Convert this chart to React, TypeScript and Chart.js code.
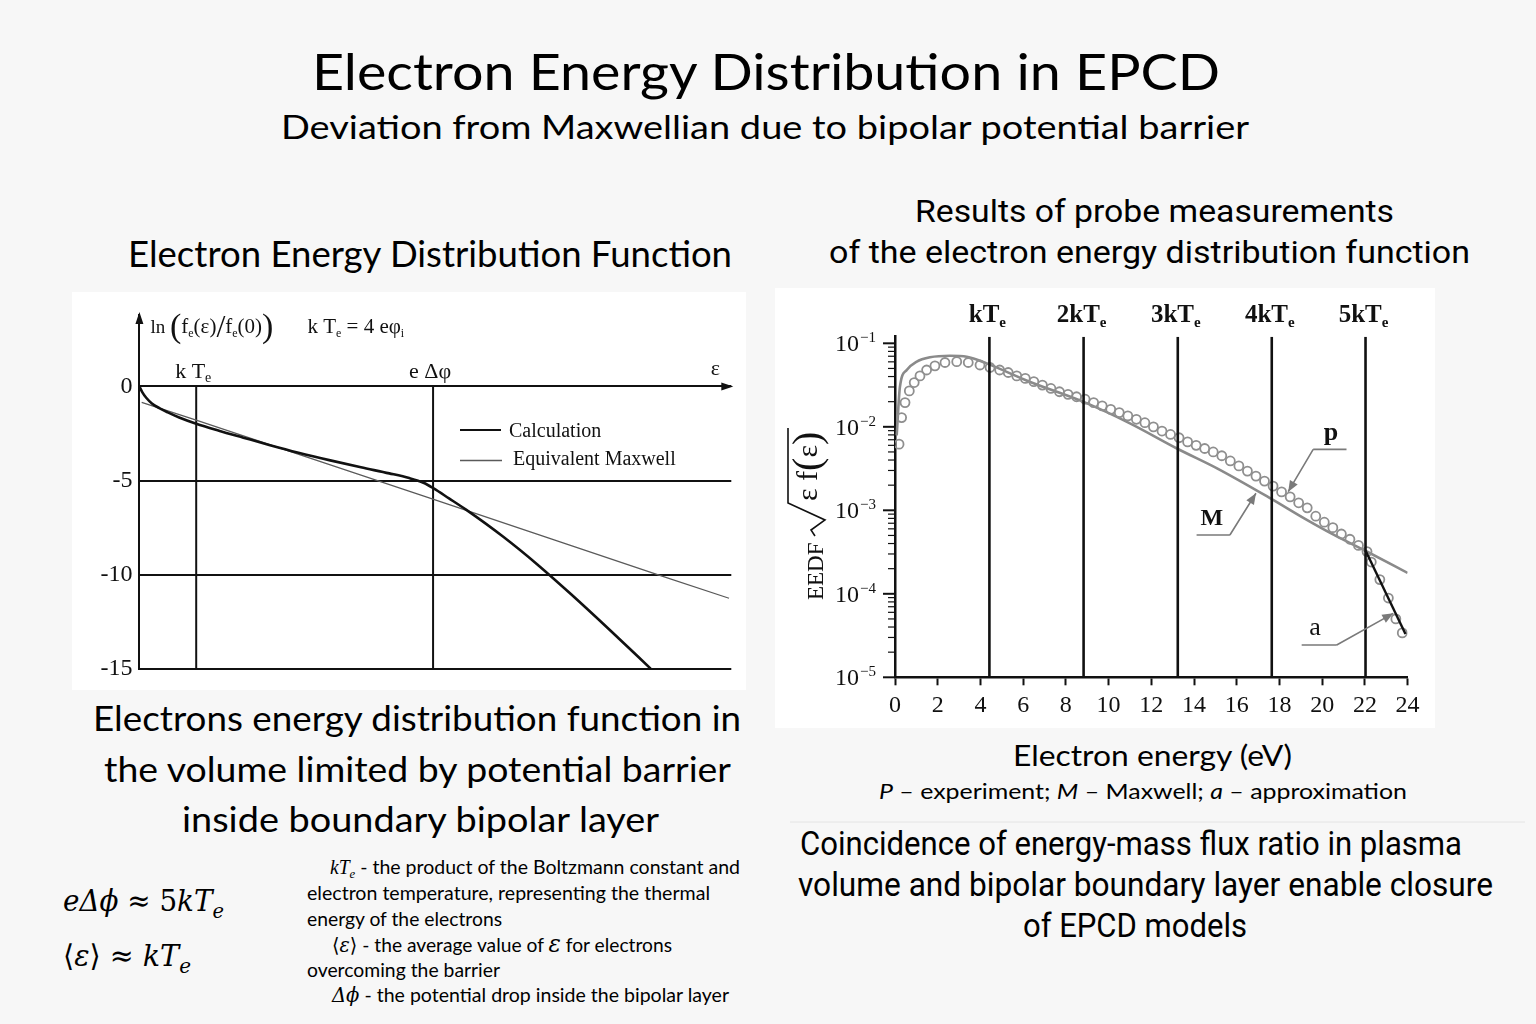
import React, { useEffect, useRef } from 'react';
import { Chart, registerables } from 'chart.js';

Chart.register(...registerables);

const INK = '#111111';
const SERIF = '"Liberation Serif", "Times New Roman", serif';
const LATO = 'Lato, "Open Sans", sans-serif';
const ROBOTO = 'Roboto, "Noto Sans", sans-serif';
const MATH = '"DejaVu Serif", "Liberation Serif", serif';

// ---------------- Left chart: ln(fe(ε)/fe(0)) vs ε (ε in units of kTe) ----------------
const calcEps = [0, 0.05, 0.12, 0.22, 0.35, 0.5, 0.7, 1.0, 1.4, 1.83, 2.3, 2.8, 3.36, 3.9, 4.4, 4.75, 5.0, 5.18, 5.45, 5.75, 6.4, 7.0, 7.6, 8.3, 9.0];
const calcLn = [0, -0.3, -0.6, -0.9, -1.15, -1.38, -1.65, -1.98, -2.35, -2.72, -3.12, -3.52, -3.93, -4.3, -4.62, -4.87, -5.12, -5.42, -5.95, -6.55, -7.98, -9.45, -11.05, -13.0, -15.0];
const maxwellEps = [0.04, 1.0, 5.18, 9.16, 10.38];
const maxwellLn = [-0.84, -1.79, -6.0, -10.04, -11.26];
const leftMarkerEps = [1, 5.17];
const leftMarkerMain = ['k T', 'e Δφ'];
const leftMarkerSub = ['e', ''];
const leftYTicks = [0, -5, -10, -15];
const LEFT_X_MAX = 10.42;
const LEFT_Y_MIN = -15;
const LEFT_Y_MAX = 3.8;

// ---------------- Right chart: EEDF vs electron energy (eV) ----------------
const pEnergy = [0.19, 0.31, 0.47, 0.67, 0.9, 1.17, 1.48, 1.87, 2.34, 2.89, 3.43, 3.98, 4.45, 4.9, 5.3, 5.7, 6.1, 6.5, 6.9, 7.3, 7.7, 8.1, 8.5, 8.9, 9.3, 9.7, 10.1, 10.5, 10.9, 11.3, 11.7, 12.1, 12.5, 12.9, 13.3, 13.7, 14.1, 14.5, 14.9, 15.3, 15.7, 16.1, 16.5, 16.9, 17.3, 17.7, 18.1, 18.5, 18.9, 19.3, 19.7, 20.1, 20.5, 20.9, 21.3, 21.7, 22.1, 22.3, 22.7, 23.1, 23.45, 23.75];
const pEedf = [6.2e-3, 1.29e-2, 1.95e-2, 2.69e-2, 3.39e-2, 4.07e-2, 4.79e-2, 5.37e-2, 5.89e-2, 6.03e-2, 5.89e-2, 5.5e-2, 5.13e-2, 4.79e-2, 4.47e-2, 4.07e-2, 3.8e-2, 3.47e-2, 3.16e-2, 2.88e-2, 2.63e-2, 2.45e-2, 2.29e-2, 2.14e-2, 1.95e-2, 1.78e-2, 1.62e-2, 1.48e-2, 1.35e-2, 1.23e-2, 1.12e-2, 1.0e-2, 8.9e-3, 8.1e-3, 7.4e-3, 6.6e-3, 6.0e-3, 5.5e-3, 5.0e-3, 4.5e-3, 3.9e-3, 3.4e-3, 2.95e-3, 2.57e-3, 2.24e-3, 1.95e-3, 1.66e-3, 1.45e-3, 1.23e-3, 1.07e-3, 8.5e-4, 7.2e-4, 6.2e-4, 5.2e-4, 4.5e-4, 3.8e-4, 3.2e-4, 2.4e-4, 1.48e-4, 8.9e-5, 5.0e-5, 3.4e-5];
const mEnergy = [0.08, 0.23, 0.55, 1.0, 1.64, 2.57, 3.36, 4.29, 6.3, 8.8, 11.0, 13.2, 15.1, 17.6, 19.2, 20.6, 22.0, 24.0];
const mEedf = [7.9e-3, 3.0e-2, 4.8e-2, 6.0e-2, 6.8e-2, 7.1e-2, 6.9e-2, 5.75e-2, 3.47e-2, 2.0e-2, 1.1e-2, 5.5e-3, 3.16e-3, 1.38e-3, 7.9e-4, 5.0e-4, 3.3e-4, 1.78e-4];
const aEnergy = [22.03, 23.9];
const aEedf = [3.3e-4, 3.3e-5];
const kTeMultiples = [4.42, 8.83, 13.24, 17.64, 22.03];
const kTeLabels = ['kT', '2kT', '3kT', '4kT', '5kT'];
const eedfDecades = [-1, -2, -3, -4, -5];
const EEDF_MIN = 1e-5;
const EEDF_MAX = 0.12;
const ENERGY_MAX = 24;
const ENERGY_STEP = 2;

const callouts = [
  { text: 'p', bold: true, labelX: 20.41, labelY: 6.95e-3, barX1: 19.58, barX2: 21.14, barY: 5.37e-3, elbowX: 19.58, tipX: 18.41, tipY: 1.67e-3 },
  { text: 'M', bold: true, labelX: 14.83, labelY: 6.67e-4, barX1: 14.12, barX2: 15.68, barY: 5.06e-4, elbowX: 15.68, tipX: 16.9, tipY: 1.6e-3 },
  { text: 'a', bold: false, labelX: 19.66, labelY: 3.2e-5, barX1: 19.04, barX2: 20.68, barY: 2.44e-5, elbowX: 20.68, tipX: 23.33, tipY: 5.83e-5 },
];

type Part = { t: string; size: number; dy?: number; weight?: string; family?: string };

function drawParts(ctx: CanvasRenderingContext2D, parts: Part[], x: number, y: number, align: 'left' | 'center' | 'right') {
  const widths = parts.map((p) => {
    ctx.font = `${p.weight || 'normal'} ${p.size}px ${p.family || SERIF}`;
    return ctx.measureText(p.t).width;
  });
  const total = widths.reduce((a, b) => a + b, 0);
  let cx = align === 'left' ? x : align === 'center' ? x - total / 2 : x - total;
  ctx.textAlign = 'left';
  ctx.textBaseline = 'alphabetic';
  parts.forEach((p, i) => {
    ctx.font = `${p.weight || 'normal'} ${p.size}px ${p.family || SERIF}`;
    ctx.fillText(p.t, cx, y + (p.dy || 0));
    cx += widths[i];
  });
  return total;
}

function arrowHead(ctx: CanvasRenderingContext2D, tx: number, ty: number, angle: number, len: number, half: number) {
  const bx = tx - len * Math.cos(angle);
  const by = ty - len * Math.sin(angle);
  const nx = -Math.sin(angle) * half;
  const ny = Math.cos(angle) * half;
  ctx.beginPath();
  ctx.moveTo(tx, ty);
  ctx.lineTo(bx + nx, by + ny);
  ctx.lineTo(bx - nx, by - ny);
  ctx.closePath();
  ctx.fill();
}

const xy = (xs: number[], ys: number[]) => xs.map((v, i) => ({ x: v, y: ys[i] }));

function LeftChart() {
  const ref = useRef<HTMLCanvasElement>(null);
  useEffect(() => {
    const canvas = ref.current!;
    const decor = {
      id: 'leftDecor',
      afterDraw(chart: any) {
        const ctx: CanvasRenderingContext2D = chart.ctx;
        const { left, right, top } = chart.chartArea;
        const xs = chart.scales.x;
        const ys = chart.scales.y;
        const y0 = ys.getPixelForValue(0);
        ctx.save();
        ctx.fillStyle = INK;
        ctx.strokeStyle = INK;
        arrowHead(ctx, right + 2, y0, 0, 12, 4);
        arrowHead(ctx, left, top - 3, -Math.PI / 2, 12, 4);
        leftMarkerEps.forEach((e, i) => {
          const px = xs.getPixelForValue(e);
          drawParts(ctx, [{ t: leftMarkerMain[i], size: 22 }, { t: leftMarkerSub[i], size: 14, dy: 4 }], px - 3, y0 - 8, 'center');
        });
        drawParts(ctx, [{ t: 'ε', size: 22 }], right - 16, y0 - 11, 'center');
        // legend
        ctx.lineWidth = 2.2;
        ctx.beginPath(); ctx.moveTo(388, 138); ctx.lineTo(429, 138); ctx.stroke();
        drawParts(ctx, [{ t: 'Calculation', size: 20 }], 437, 145, 'left');
        ctx.strokeStyle = '#5a5a5a';
        ctx.lineWidth = 1.3;
        ctx.beginPath(); ctx.moveTo(388, 168.5); ctx.lineTo(430, 168.5); ctx.stroke();
        drawParts(ctx, [{ t: 'Equivalent Maxwell', size: 20 }], 441, 173, 'left');
        // axis caption
        drawParts(ctx, [
          { t: 'ln ', size: 19 }, { t: '(', size: 34, dy: 4 }, { t: 'f', size: 21 }, { t: 'e', size: 12, dy: 4 },
          { t: '(ε)', size: 21 }, { t: '/', size: 32, dy: 4 }, { t: 'f', size: 21 }, { t: 'e', size: 12, dy: 4 },
          { t: '(0)', size: 21 }, { t: ')', size: 34, dy: 4 },
        ], left + 11, 41, 'left');
        drawParts(ctx, [{ t: 'k T', size: 21 }, { t: 'e', size: 12, dy: 4 }, { t: ' = 4 eφ', size: 21 }, { t: 'i', size: 12, dy: 4 }], left + 168, 41, 'left');
        ctx.restore();
      },
    };
    const markerSets = leftMarkerEps.map((e) => ({
      data: [{ x: e, y: 0 }, { x: e, y: LEFT_Y_MIN }],
      showLine: true, borderColor: INK, borderWidth: 2, pointRadius: 0, tension: 0,
    }));
    const chart = new Chart(canvas, {
      type: 'scatter',
      data: {
        datasets: [
          { label: 'Calculation', data: xy(calcEps, calcLn), showLine: true, borderColor: INK, borderWidth: 2.6, pointRadius: 0, cubicInterpolationMode: 'monotone' } as any,
          { label: 'Equivalent Maxwell', data: xy(maxwellEps, maxwellLn), showLine: true, borderColor: '#5a5a5a', borderWidth: 1.3, pointRadius: 0 },
          ...markerSets,
        ],
      },
      options: {
        responsive: false, animation: false, devicePixelRatio: 1,
        layout: { padding: { left: 0, right: 14.7, top: 23, bottom: 17.3 } },
        plugins: { legend: { display: false }, tooltip: { enabled: false } },
        scales: {
          x: { type: 'linear', min: 0, max: LEFT_X_MAX, display: false },
          y: {
            type: 'linear', min: LEFT_Y_MIN, max: LEFT_Y_MAX,
            afterBuildTicks: (s: any) => { s.ticks = leftYTicks.map((v) => ({ value: v })); },
            afterFit: (s: any) => { s.width = 67.4; },
            grid: { color: INK, lineWidth: 2, drawTicks: false },
            border: { display: true, color: INK, width: 2 },
            ticks: { font: { family: SERIF, size: 24 }, color: INK, padding: 7, callback: (v: any) => String(v) },
          },
        },
      } as any,
      plugins: [decor],
    });
    return () => chart.destroy();
  }, []);
  return <canvas ref={ref} width={674} height={398} style={{ position: 'absolute', left: 72, top: 292, width: 674, height: 398, background: '#ffffff' }} />;
}

function RightChart() {
  const ref = useRef<HTMLCanvasElement>(null);
  useEffect(() => {
    const canvas = ref.current!;
    const decor = {
      id: 'rightDecor',
      afterDraw(chart: any) {
        const ctx: CanvasRenderingContext2D = chart.ctx;
        const { left } = chart.chartArea;
        const xs = chart.scales.x;
        const ys = chart.scales.y;
        ctx.save();
        ctx.fillStyle = INK;
        ctx.strokeStyle = INK;
        // y ticks and labels
        eedfDecades.forEach((d) => {
          const py = ys.getPixelForValue(Math.pow(10, d));
          ctx.lineWidth = 2;
          ctx.beginPath(); ctx.moveTo(left - 12, py); ctx.lineTo(left, py); ctx.stroke();
          drawParts(ctx, [{ t: '10', size: 24 }], left - 36, py + 8, 'right');
          drawParts(ctx, [{ t: '−' + Math.abs(d), size: 15 }], left - 35, py - 1, 'left');
          if (d > Math.min(...eedfDecades)) {
            for (let m = 2; m <= 9; m++) {
              const v = m * Math.pow(10, d - 1);
              const pm = ys.getPixelForValue(v);
              ctx.lineWidth = 1.2;
              ctx.beginPath(); ctx.moveTo(left - 7, pm); ctx.lineTo(left, pm); ctx.stroke();
            }
          }
        });
        // kTe labels
        kTeMultiples.forEach((v, i) => {
          const px = xs.getPixelForValue(v);
          drawParts(ctx, [{ t: kTeLabels[i], size: 25, weight: 'bold' }, { t: 'e', size: 15, dy: 5, weight: 'bold' }], px - 2, 33.7, 'center');
        });
        // y title
        ctx.save();
        ctx.translate(48, 312);
        ctx.rotate(-Math.PI / 2);
        drawParts(ctx, [{ t: 'EEDF', size: 23 }], 0, 0, 'left');
        ctx.lineWidth = 1.6;
        ctx.beginPath();
        ctx.moveTo(64, -8); ctx.lineTo(70, -12); ctx.lineTo(80, 2); ctx.lineTo(97, -35); ctx.lineTo(172, -35);
        ctx.stroke();
        drawParts(ctx, [{ t: 'ε', size: 30 }, { t: ' f', size: 30 }, { t: '(', size: 40, dy: 3 }, { t: 'ε', size: 30 }, { t: ')', size: 40, dy: 3 }], 99, -6, 'left');
        ctx.restore();
        // callouts
        ctx.strokeStyle = '#7a7a7a';
        ctx.fillStyle = '#7a7a7a';
        ctx.lineWidth = 1.6;
        callouts.forEach((c) => {
          const by = ys.getPixelForValue(c.barY);
          const ex = xs.getPixelForValue(c.elbowX);
          const tx = xs.getPixelForValue(c.tipX);
          const ty = ys.getPixelForValue(c.tipY);
          ctx.beginPath();
          ctx.moveTo(xs.getPixelForValue(c.barX1), by);
          ctx.lineTo(xs.getPixelForValue(c.barX2), by);
          ctx.moveTo(ex, by);
          ctx.lineTo(tx, ty);
          ctx.stroke();
          arrowHead(ctx, tx, ty, Math.atan2(ty - by, tx - ex), 11, 4.5);
        });
        ctx.fillStyle = INK;
        callouts.forEach((c) => {
          drawParts(ctx, [{ t: c.text, size: c.text === 'M' ? 24 : 26, weight: c.bold ? 'bold' : 'normal' }], xs.getPixelForValue(c.labelX), ys.getPixelForValue(c.labelY), 'center');
        });
        ctx.restore();
      },
    };
    const verticals = kTeMultiples.map((v) => ({
      data: [{ x: v, y: EEDF_MIN }, { x: v, y: EEDF_MAX }],
      showLine: true, borderColor: INK, borderWidth: 2.6, pointRadius: 0, tension: 0,
    }));
    const chart = new Chart(canvas, {
      type: 'scatter',
      data: {
        datasets: [
          { label: 'a', data: xy(aEnergy, aEedf), showLine: true, borderColor: INK, borderWidth: 2.4, pointRadius: 0 },
          ...verticals,
          { label: 'P', data: xy(pEnergy, pEedf), showLine: false, pointStyle: 'circle', pointRadius: 4.5, pointBorderWidth: 1.8, pointBorderColor: '#8f8f8f', pointBackgroundColor: 'rgba(0,0,0,0)' },
          { label: 'M', data: xy(mEnergy, mEedf), showLine: true, borderColor: '#8a8a8a', borderWidth: 2.6, pointRadius: 0, cubicInterpolationMode: 'monotone' } as any,
        ],
      },
      options: {
        responsive: false, animation: false, devicePixelRatio: 1,
        layout: { padding: { left: 0, right: 27.4, top: 48.7, bottom: 0 } },
        plugins: { legend: { display: false }, tooltip: { enabled: false } },
        scales: {
          x: {
            type: 'linear', min: 0, max: ENERGY_MAX,
            afterFit: (s: any) => { s.height = 50.7; },
            ticks: { stepSize: ENERGY_STEP, autoSkip: false, maxRotation: 0, font: { family: SERIF, size: 24 }, color: INK, padding: 6 },
            grid: { drawOnChartArea: false, drawTicks: true, tickLength: 8, tickColor: INK, tickWidth: 2, color: INK },
            border: { display: true, color: INK, width: 2.5 },
          },
          y: {
            type: 'logarithmic', min: EEDF_MIN, max: EEDF_MAX,
            afterFit: (s: any) => { s.width = 120; },
            ticks: { display: false },
            grid: { display: false },
            border: { display: true, color: INK, width: 2.5 },
          },
        },
      } as any,
      plugins: [decor],
    });
    return () => chart.destroy();
  }, []);
  return <canvas ref={ref} width={660} height={440} style={{ position: 'absolute', left: 775, top: 288, width: 660, height: 440, background: '#ffffff' }} />;
}

function T(props: { x: number; y: number; w: number; size: number; family: string; children: any }) {
  return (
    <text x={props.x} y={props.y} fontSize={props.size} fontFamily={props.family} textLength={props.w} lengthAdjust="spacingAndGlyphs" fill="#000" style={{ whiteSpace: 'pre' }}>
      {props.children}
    </text>
  );
}

export default function App() {
  useEffect(() => {
    document.body.style.margin = '0';
  }, []);
  return (
    <div style={{ position: 'absolute', left: 0, top: 0, width: 1536, height: 1024, background: '#f7f7f7', overflow: 'hidden' }}>
      <svg width={1536} height={1024} style={{ position: 'absolute', left: 0, top: 0 }}>
        <T x={312} y={90} w={908} size={50} family={LATO}>Electron Energy Distribution in EPCD</T>
        <T x={281} y={139} w={968} size={33} family={LATO}>Deviation from Maxwellian due to bipolar potential barrier</T>
        <T x={128} y={267} w={604} size={37} family={LATO}>Electron Energy Distribution Function</T>
        <T x={915} y={222} w={479} size={32} family={ROBOTO}>Results of probe measurements</T>
        <T x={829} y={263} w={641} size={32} family={ROBOTO}>of the electron energy distribution function</T>
        <T x={93} y={731} w={648} size={35} family={LATO}>Electrons energy distribution function in</T>
        <T x={104} y={782} w={627} size={35} family={LATO}>the volume limited by potential barrier</T>
        <T x={182} y={832} w={477} size={35} family={LATO}>inside boundary bipolar layer</T>
        <T x={1013} y={766} w={279} size={29} family={LATO}>Electron energy (eV)</T>
        <T x={879} y={799} w={528} size={22} family={LATO}>
          <tspan fontStyle="italic">P</tspan> – experiment; <tspan fontStyle="italic">M</tspan> – Maxwell; <tspan fontStyle="italic">a</tspan> – approximation
        </T>
        <line x1={790} y1={822} x2={1525} y2={822} stroke="#e4e4e4" strokeWidth={1} />
        <T x={800} y={855} w={662} size={33} family={ROBOTO}>Coincidence of energy-mass flux ratio in plasma</T>
        <T x={798} y={896} w={695} size={33} family={ROBOTO}>volume and bipolar boundary layer enable closure</T>
        <T x={1023} y={937} w={224} size={33} family={ROBOTO}>of EPCD models</T>
        <T x={63} y={911} w={161} size={30} family={MATH}>
          <tspan fontStyle="italic">eΔϕ</tspan> ≈ 5<tspan fontStyle="italic">kT</tspan><tspan fontStyle="italic" fontSize={21} dy={7}>e</tspan>
        </T>
        <T x={63} y={966} w={128} size={30} family={MATH}>
          ⟨<tspan fontStyle="italic">ε</tspan>⟩ ≈ <tspan fontStyle="italic">kT</tspan><tspan fontStyle="italic" fontSize={21} dy={7}>e</tspan>
        </T>
        <T x={330} y={874} w={410} size={20} family={LATO}>
          <tspan fontFamily={SERIF} fontStyle="italic">kT</tspan><tspan fontFamily={SERIF} fontStyle="italic" fontSize={13} dy={4}>e</tspan><tspan dy={-4}> - the product of the Boltzmann constant and</tspan>
        </T>
        <T x={307} y={900} w={403} size={20} family={LATO}>electron temperature, representing the thermal</T>
        <T x={307} y={926} w={195} size={20} family={LATO}>energy of the electrons</T>
        <T x={332} y={952} w={340} size={20} family={LATO}>
          <tspan fontFamily={MATH}>⟨</tspan><tspan fontFamily={MATH} fontStyle="italic">ε</tspan><tspan fontFamily={MATH}>⟩</tspan> - the average value of <tspan fontFamily={MATH} fontStyle="italic" fontSize={24}>ε</tspan> for electrons
        </T>
        <T x={307} y={977} w={193} size={20} family={LATO}>overcoming the barrier</T>
        <T x={332} y={1002} w={397} size={20} family={LATO}>
          <tspan fontFamily={MATH} fontStyle="italic">Δϕ</tspan> - the potential drop inside the bipolar layer
        </T>
      </svg>
      <LeftChart />
      <RightChart />
    </div>
  );
}
